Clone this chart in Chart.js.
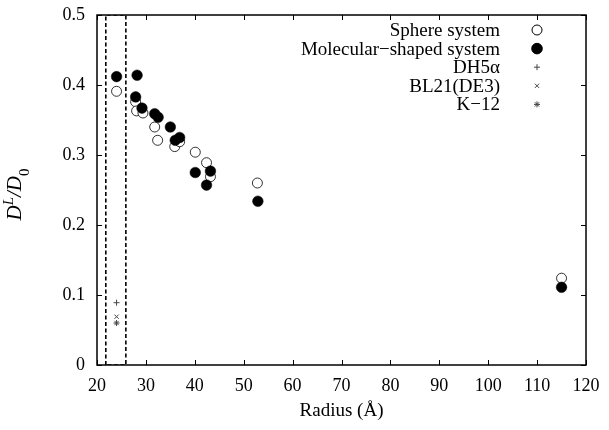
<!DOCTYPE html>
<html>
<head>
<meta charset="utf-8">
<script src="https://cdn.jsdelivr.net/npm/chart.js@4/dist/chart.umd.min.js"></script>
<style>
  html, body { margin: 0; padding: 0; background: #fff; }
  #wrap { width: 609px; height: 430px; }
</style>
</head>
<body>
<div id="wrap"><canvas id="plot"></canvas></div>
<script>
// values
const sphereX = [24.0, 27.9, 28.1, 29.4, 31.8, 32.4, 35.9, 36.9, 40.1, 42.4, 43.2, 52.8, 115.0];
const sphereY = [0.391, 0.376, 0.363, 0.360, 0.340, 0.321, 0.312, 0.319, 0.304, 0.289, 0.269, 0.260, 0.124];
const molX = [24.0, 28.2, 27.9, 29.2, 31.8, 32.5, 35.0, 36.0, 36.9, 40.1, 43.2, 42.4, 52.9, 115.0];
const molY = [0.412, 0.414, 0.383, 0.367, 0.359, 0.354, 0.340, 0.321, 0.325, 0.275, 0.277, 0.257, 0.234, 0.111];
const strainNames = ['DH5α', 'BL21(DE3)', 'K\u221212'];
const strainX = [24.0, 24.0, 24.0];
const strainY = [0.089, 0.069, 0.060];
const boxX = [21.8, 21.8, 25.9, 25.9, 21.8];
const boxY = [0, 0.5, 0.5, 0, 0];
const xTicks = [20, 30, 40, 50, 60, 70, 80, 90, 100, 110, 120];
const yTicks = [0, 0.1, 0.2, 0.3, 0.4, 0.5];

const serif = '"Liberation Serif", "DejaVu Serif", serif';

function pts(xs, ys) {
    return xs.map((x, i) => ({ x: x, y: ys[i] }));
}

const legendItems = [
    { text: 'Sphere system', style: 'circle', r: 5, fill: '#fff', stroke: '#000' },
    { text: 'Molecular\u2212shaped system', style: 'circle', r: 5.3, fill: '#000', stroke: '#000' },
    { text: strainNames[0], style: 'cross', r: 3, fill: '#444', stroke: '#444' },
    { text: strainNames[1], style: 'crossRot', r: 3, fill: '#444', stroke: '#444' },
    { text: strainNames[2], style: 'star', r: 3, fill: '#444', stroke: '#444' }
];

const framePlugin = {
    id: 'frame',
    afterDatasetsDraw(chart) {
        const ctx = chart.ctx;
        const a = chart.chartArea;
        const xs = chart.scales.x, ys = chart.scales.y;
        ctx.save();
        ctx.strokeStyle = '#000';
        ctx.lineWidth = 1;
        // inward ticks on all four sides
        ctx.beginPath();
        xTicks.forEach(v => {
            const px = Math.round(xs.getPixelForValue(v)) + 0.5;
            ctx.moveTo(px, a.bottom); ctx.lineTo(px, a.bottom - 5);
            ctx.moveTo(px, a.top); ctx.lineTo(px, a.top + 5);
        });
        yTicks.forEach(v => {
            const py = Math.round(ys.getPixelForValue(v)) + 0.5;
            ctx.moveTo(a.left, py); ctx.lineTo(a.left + 5, py);
            ctx.moveTo(a.right, py); ctx.lineTo(a.right - 5, py);
        });
        ctx.stroke();
        ctx.lineWidth = 1.5;
        ctx.strokeRect(a.left, a.top, a.right - a.left, a.bottom - a.top);

        // legend
        ctx.font = '19px ' + serif;
        ctx.textAlign = 'right';
        ctx.textBaseline = 'middle';
        legendItems.forEach((it, i) => {
            const y = 30 + i * 18.6;
            ctx.fillStyle = '#000';
            ctx.fillText(it.text, 500, y + 1);
            ctx.fillStyle = it.fill;
            ctx.strokeStyle = it.stroke;
            ctx.lineWidth = 1;
            Chart.helpers.drawPoint(ctx, { pointStyle: it.style, radius: it.r, rotation: 0, borderWidth: 1 }, 537, y);
        });

        // axis titles
        ctx.fillStyle = '#000';
        ctx.textAlign = 'center';
        ctx.textBaseline = 'middle';
        ctx.font = '19px ' + serif;
        ctx.fillText('Radius (\u00c5)', (a.left + a.right) / 2, 411);

        ctx.translate(21, 194.5);
        ctx.rotate(-Math.PI / 2);
        const big = 'italic 21px ' + serif, small = 'italic 15px ' + serif, smallUp = '15px ' + serif;
        const parts = [
            { t: 'D', f: big, dy: 0 },
            { t: 'L', f: small, dy: -8 },
            { t: '/D', f: big, dy: 0 },
            { t: '0', f: smallUp, dy: 8 }
        ];
        let w = 0;
        parts.forEach(p => { ctx.font = p.f; p.w = ctx.measureText(p.t).width; w += p.w; });
        let cx = -w / 2;
        ctx.textAlign = 'left';
        ctx.textBaseline = 'alphabetic';
        parts.forEach(p => { ctx.font = p.f; ctx.fillText(p.t, cx, p.dy); cx += p.w; });
        ctx.restore();
    }
};

new Chart(document.getElementById('plot'), {
    type: 'scatter',
    data: {
        datasets: [
            { label: 'box', type: 'line', data: pts(boxX, boxY), showLine: true, fill: false,
              borderColor: '#000', borderWidth: 1.6, borderDash: [4, 2.5], pointRadius: 0, tension: 0, order: 5 },
            { label: 'Sphere system', data: pts(sphereX, sphereY), pointStyle: 'circle', pointRadius: 5,
              backgroundColor: '#fff', borderColor: '#000', borderWidth: 0.8, order: 2 },
            { label: 'Molecular-shaped system', data: pts(molX, molY), pointStyle: 'circle', pointRadius: 5.3,
              backgroundColor: '#000', borderColor: '#000', borderWidth: 0.5, order: 1 },
            { label: strainNames[0], data: [{ x: strainX[0], y: strainY[0] }], pointStyle: 'cross', pointRadius: 3,
              borderColor: '#444', backgroundColor: '#444', borderWidth: 1, order: 0 },
            { label: strainNames[1], data: [{ x: strainX[1], y: strainY[1] }], pointStyle: 'crossRot', pointRadius: 3,
              borderColor: '#444', backgroundColor: '#444', borderWidth: 1, order: 0 },
            { label: strainNames[2], data: [{ x: strainX[2], y: strainY[2] }], pointStyle: 'star', pointRadius: 3,
              borderColor: '#444', backgroundColor: '#444', borderWidth: 1, order: 0 }
        ]
    },
    options: {
        responsive: true,
        maintainAspectRatio: false,
        animation: false,
        layout: { padding: { left: 0, right: 23, top: 15, bottom: 0 } },
        plugins: { legend: { display: false }, tooltip: { enabled: false } },
        scales: {
            x: {
                type: 'linear', min: 20, max: 120,
                afterFit: s => { s.height = 65; s.paddingLeft = 0; s.paddingRight = 0; },
                afterBuildTicks: s => { s.ticks = xTicks.map(v => ({ value: v })); },
                grid: { display: false, drawTicks: false },
                border: { display: false },
                ticks: { color: '#000', padding: 10, maxRotation: 0, font: { family: serif, size: 18 } }
            },
            y: {
                type: 'linear', min: 0, max: 0.5,
                afterFit: s => { s.width = 97; s.paddingTop = 0; s.paddingBottom = 0; },
                afterBuildTicks: s => { s.ticks = yTicks.map(v => ({ value: v })); },
                grid: { display: false, drawTicks: false },
                border: { display: false },
                ticks: { color: '#000', padding: 12, font: { family: serif, size: 18 },
                         callback: v => v === 0 ? '0' : v.toFixed(1) }
            }
        }
    },
    plugins: [framePlugin]
});
</script>
</body>
</html>
